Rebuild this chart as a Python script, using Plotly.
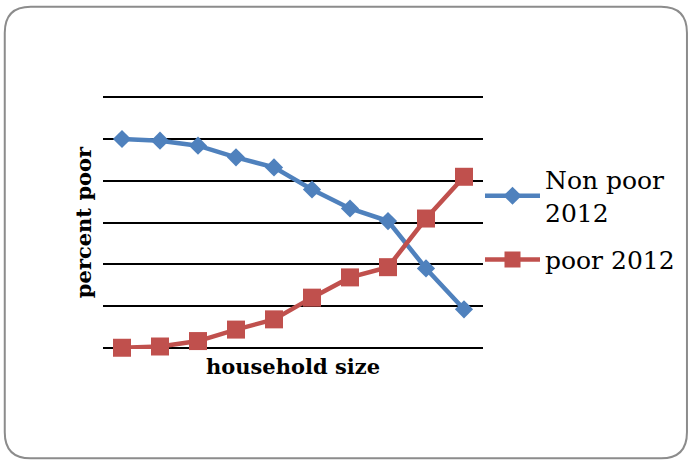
import plotly.graph_objects as go

categories = [str(i) for i in range(1, 11)]
non_poor = [100.0, 99.2, 96.8, 91.2, 86.4, 75.8, 66.7, 60.7, 38.0, 18.4]
poor = [0.0, 0.6, 3.2, 8.7, 13.6, 24.0, 33.7, 38.6, 61.9, 81.9]

W, H = 691, 460
L, R, T, B = 103, 484, 97.7, 347.3
YMIN, YMAX, PAD = 0, 120, 0.6
ppu = (B - T) / (YMAX - YMIN)

fig = go.Figure()
fig.add_trace(go.Scatter(x=categories, y=non_poor, name="Non poor<br>2012", mode="lines+markers",
                         legendgroup="g1",
                         line=dict(color="#4F81BD", width=4.5), cliponaxis=False,
                         marker=dict(symbol="diamond", size=14, color="#4F81BD")))
fig.add_trace(go.Scatter(x=categories, y=poor, name="poor 2012", mode="lines+markers",
                         legendgroup="g2",
                         line=dict(color="#C0504D", width=4.5), cliponaxis=False,
                         marker=dict(symbol="square", size=18, color="#C0504D")))

t_m = T - PAD * ppu
b_m = H - B - PAD * ppu

def px(x):
    return (x - L) / (R - L)

def py(y):
    return ((H - b_m) - y) / ((H - b_m) - t_m)

x0, x1, y0, y1, r = 4.5, 688.5, 7.5, 457.5, 26
path = (f"M {px(x0+r)},{py(y0)} L {px(x1-r)},{py(y0)} Q {px(x1)},{py(y0)} {px(x1)},{py(y0+r)} "
        f"L {px(x1)},{py(y1-r)} Q {px(x1)},{py(y1)} {px(x1-r)},{py(y1)} "
        f"L {px(x0+r)},{py(y1)} Q {px(x0)},{py(y1)} {px(x0)},{py(y1-r)} "
        f"L {px(x0)},{py(y0+r)} Q {px(x0)},{py(y0)} {px(x0+r)},{py(y0)} Z")

fig.update_layout(
    width=W, height=H,
    margin=dict(l=L, r=W - R, t=t_m, b=b_m),
    paper_bgcolor="white", plot_bgcolor="white",
    showlegend=True,
    legend=dict(x=px(480), xanchor="left", y=py(157), yanchor="top",
                font=dict(family="DejaVu Serif", size=25, color="black"),
                itemwidth=55, tracegroupgap=12, bgcolor="rgba(0,0,0,0)"),
    xaxis=dict(type="category", showticklabels=False, showgrid=False, zeroline=False,
               showline=False, ticks="", range=[-0.5, 9.5],
               title=dict(text="<b>household size</b>", standoff=10,
                          font=dict(family="DejaVu Serif", size=21, color="black"))),
    yaxis=dict(range=[YMIN - PAD, YMAX + PAD], tick0=0, dtick=20, showticklabels=False, showgrid=True,
               gridcolor="black", gridwidth=1.5, zeroline=False, showline=False, ticks="",
               title=dict(text="<b>percent poor</b>", standoff=4,
                          font=dict(family="DejaVu Serif", size=21, color="black"))),
    shapes=[dict(type="path", xref="paper", yref="paper", path=path,
                 line=dict(color="#8c8c8c", width=2), layer="below")],
)

fig.write_html("out.html")
